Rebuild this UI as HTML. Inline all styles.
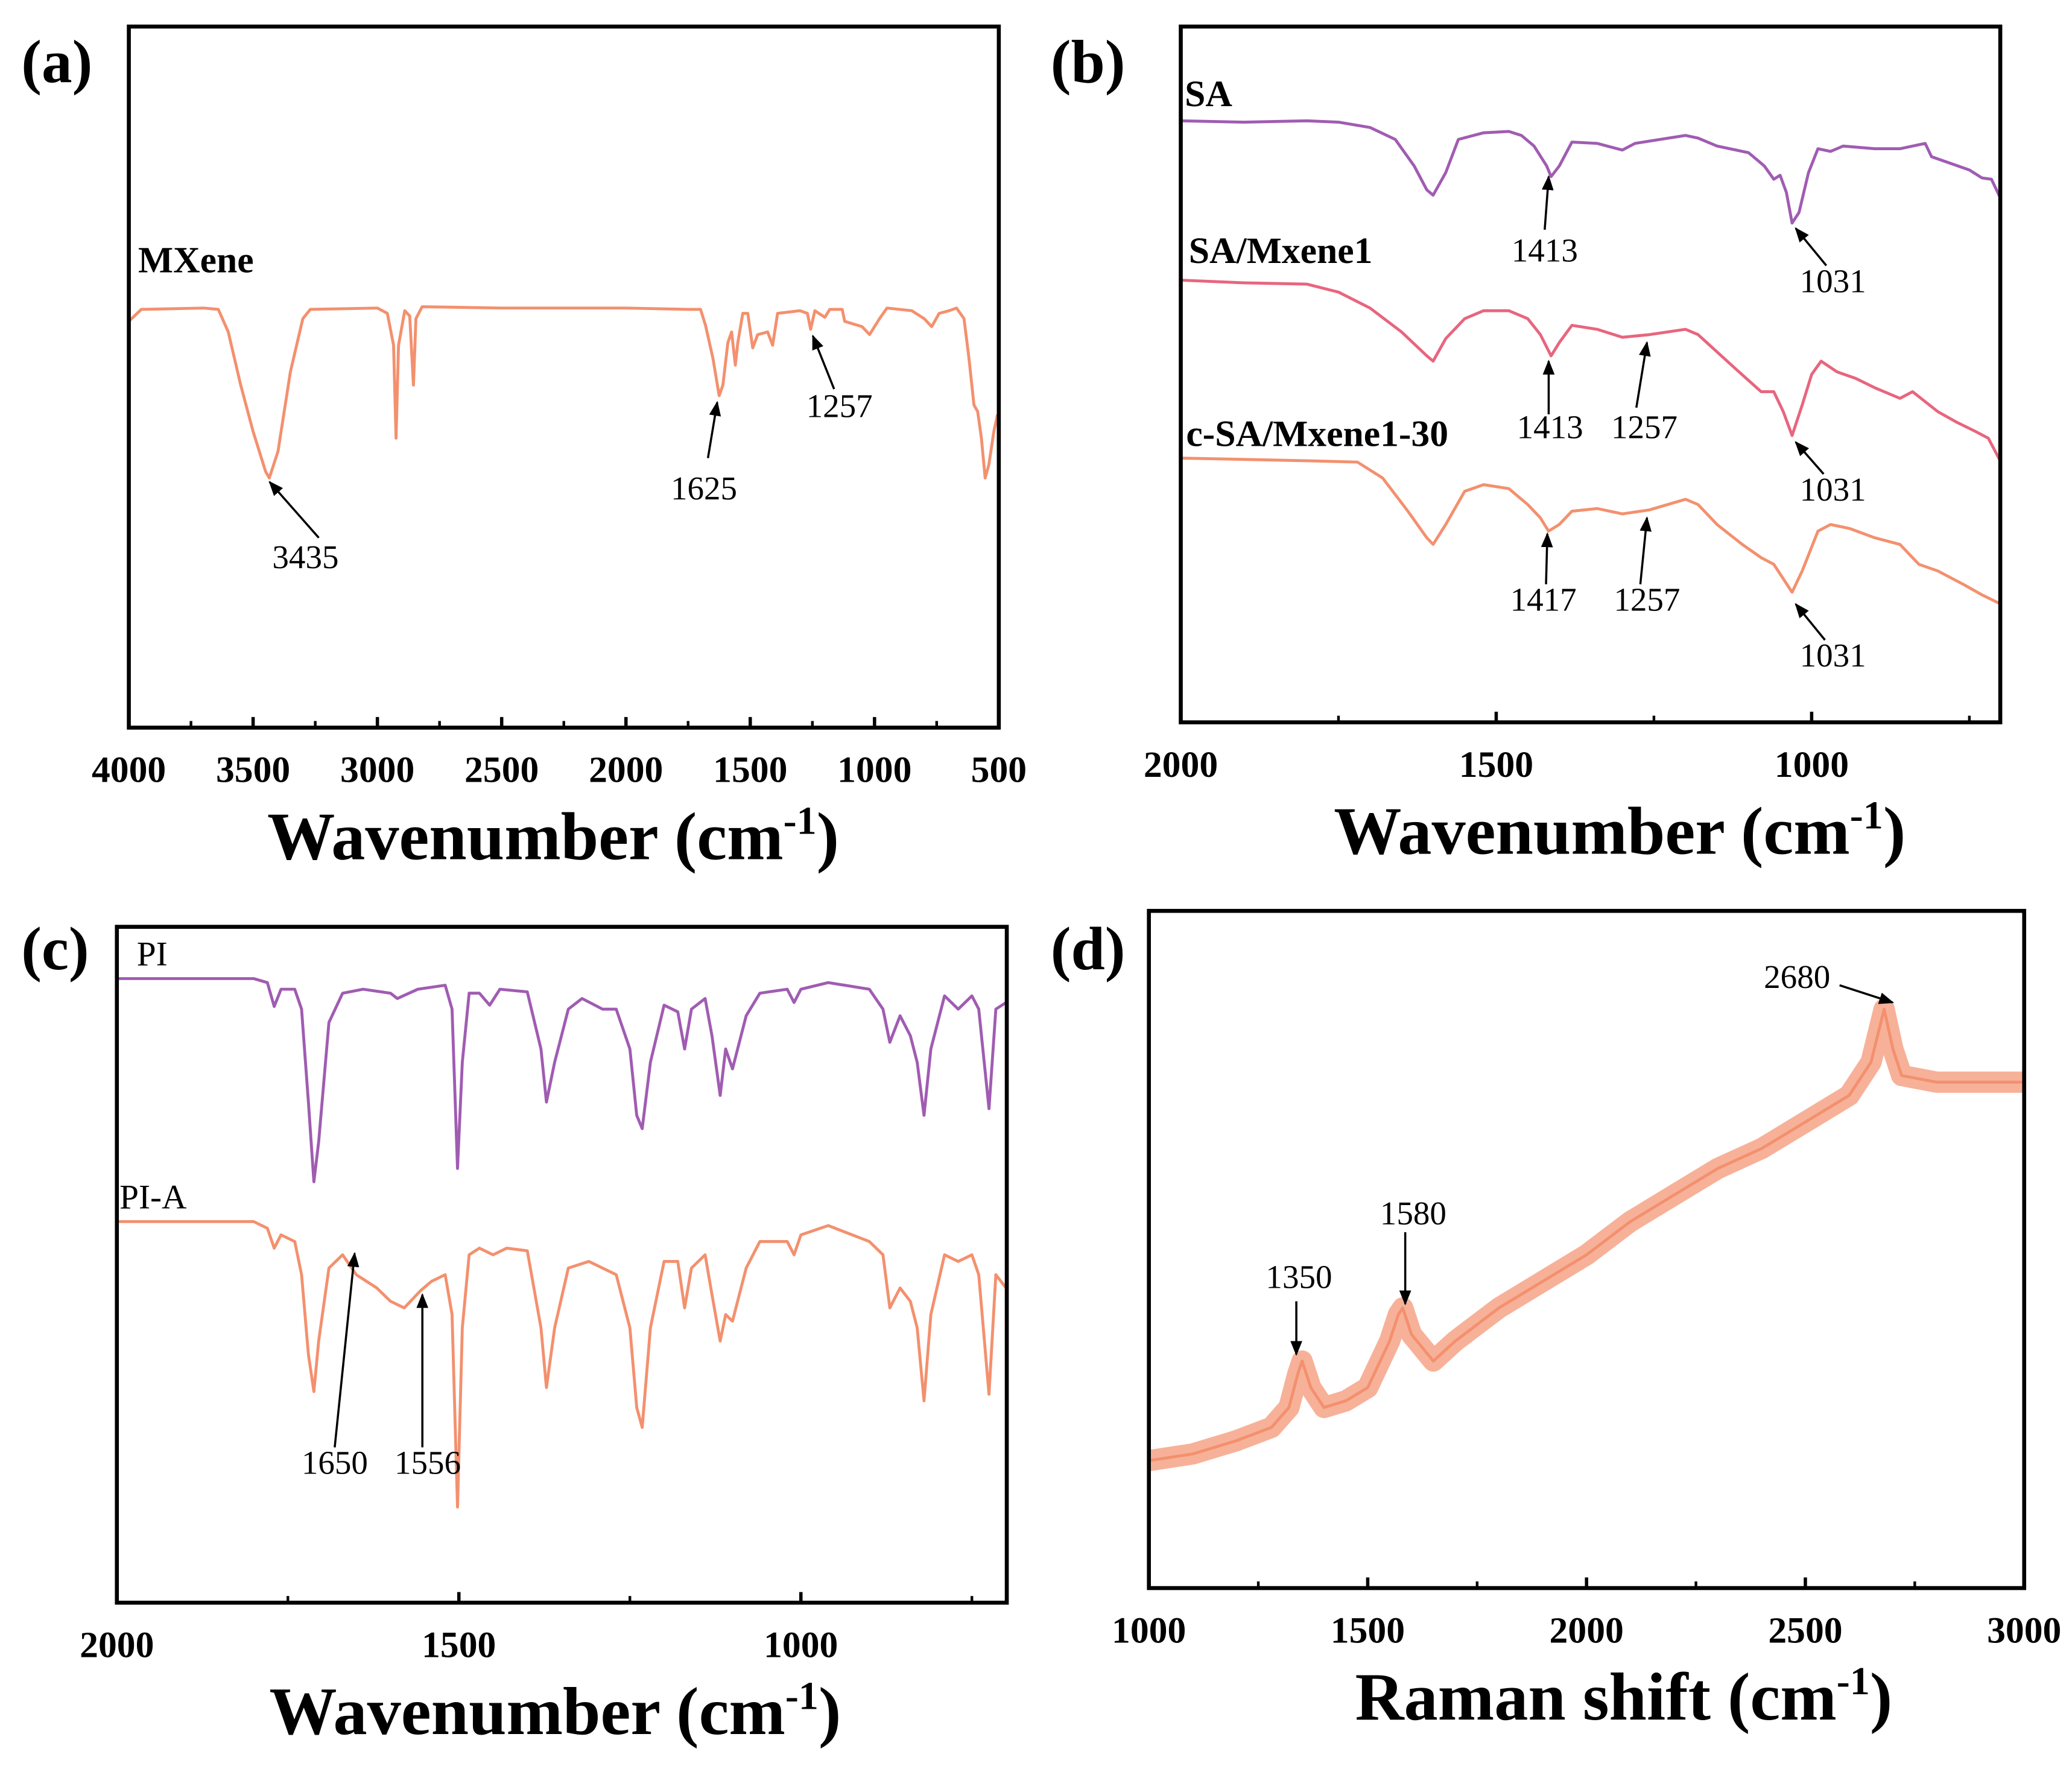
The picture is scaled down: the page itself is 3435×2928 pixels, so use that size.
<!DOCTYPE html>
<html><head><meta charset="utf-8">
<style>
html,body{margin:0;padding:0;background:#fff;}
svg{display:block;}
text{font-family:"Liberation Serif",serif;}
</style></head>
<body>
<svg id="fig" width="3435" height="2928" viewBox="0 0 1560 1330" preserveAspectRatio="none" xmlns="http://www.w3.org/2000/svg">
<defs><marker id="ah" viewBox="0 0 10 10" refX="9" refY="5" markerWidth="7" markerHeight="7" orient="auto"><path d="M0,1 L10,5 L0,9 z" fill="#000"/></marker></defs>
</svg>
<script>
// ---- data: panel (a) MXene FTIR
const aWave=[4000,3950,3700,3640,3600,3550,3500,3450,3435,3400,3350,3300,3270,3000,2960,2935,2925,2915,2890,2870,2855,2845,2820,2500,2000,1750,1700,1680,1650,1625,1610,1590,1575,1560,1550,1530,1510,1490,1470,1430,1410,1390,1300,1270,1257,1240,1200,1180,1130,1120,1050,1020,980,950,850,800,770,740,700,670,640,620,600,585,570,555,540,520,505];
const aMXene=[306,315,316,315,298,258,223,193,188,208,268,308,315,316,312,288,218,288,314,310,258,308,317,316,316,315,315,303,278,250,258,290,298,273,290,312,312,286,296,298,288,312,314,312,300,314,309,315,315,306,302,296,308,316,314,308,302,312,314,316,308,278,243,238,218,188,198,223,236];
const aTicks=[4000,3500,3000,2500,2000,1500,1000,500];
// ---- panel (b)
const bWave1=[2000,1900,1800,1750,1700,1660,1630,1610,1600,1580,1560,1520,1480,1460,1440,1420,1413,1400,1380,1340,1300,1280,1240,1200,1180,1150,1100,1075,1060,1050,1040,1031,1020,1005,990,970,950,900,860,820,810,780,750,730,715,700];
const bSA=[453,452,453,452,448,439,419,401,397,414,439,444,445,442,434,419,411,419,437,436,431,436,439,442,440,434,429,419,409,412,399,376,384,414,432,430,434,432,432,436,426,421,416,410,409,394];
const bWave2=[2000,1900,1800,1750,1700,1650,1610,1600,1580,1550,1520,1480,1450,1430,1413,1400,1380,1340,1300,1257,1200,1180,1150,1120,1080,1060,1045,1031,1015,1000,985,960,930,900,860,840,800,770,740,720,700];
const bSAM1=[333,331,330,324,312,294,276,272,289,304,310,310,304,292,276,286,299,296,290,292,296,292,279,266,249,249,234,216,239,262,272,264,259,252,244,249,234,226,219,214,196];
const bWave3=[2000,1900,1800,1720,1680,1640,1610,1600,1580,1550,1520,1480,1450,1430,1417,1400,1380,1340,1300,1257,1200,1180,1150,1110,1080,1060,1031,1015,990,970,940,900,860,830,800,760,730,700];
const bCSA=[199,198,197,196,184,159,139,134,149,174,179,176,164,154,144,149,159,161,157,160,168,164,149,134,124,119,98,114,144,149,146,139,134,119,114,104,96,89];
const bTicks=[2000,1500,1000];
// ---- panel (c)
const cWave1=[2000,1800,1780,1770,1760,1740,1730,1720,1712,1705,1690,1670,1640,1600,1590,1560,1520,1510,1502,1495,1485,1470,1455,1440,1400,1380,1372,1360,1340,1320,1290,1270,1250,1240,1232,1220,1200,1180,1170,1160,1140,1130,1118,1110,1100,1080,1060,1020,1010,1000,960,900,880,870,855,840,830,820,810,790,770,750,740,725,715,700];
const cPI=[470,470,467,449,462,462,447,377,317,347,437,459,462,459,455,462,465,447,327,407,459,459,450,462,460,417,377,407,447,455,447,447,417,367,357,407,450,445,417,447,455,427,382,417,402,442,459,462,452,462,467,462,447,422,442,427,407,367,417,457,447,457,447,372,447,452];
const cWave2=[2000,1800,1780,1770,1760,1740,1730,1720,1712,1705,1690,1670,1650,1620,1600,1580,1556,1540,1520,1510,1502,1495,1485,1470,1450,1430,1400,1380,1372,1360,1340,1310,1290,1270,1250,1240,1232,1220,1200,1180,1170,1160,1140,1130,1118,1110,1100,1080,1060,1020,1010,1000,960,900,880,870,855,840,830,820,810,790,770,750,740,725,715,700];
const cPIA=[287,287,282,267,277,272,247,187,159,197,252,262,247,237,227,222,235,242,247,217,72,207,262,267,262,267,265,207,162,207,252,257,252,247,207,147,132,207,257,257,222,252,262,232,197,217,212,252,272,272,262,277,284,272,262,222,237,227,207,152,217,262,257,262,247,157,247,237];
const cTicks=[2000,1500,1000];
// ---- panel (d) Raman
const dShift=[1000,1100,1200,1280,1320,1340,1350,1370,1400,1450,1500,1550,1570,1580,1600,1650,1700,1800,1900,2000,2100,2200,2300,2400,2500,2600,2650,2680,2700,2720,2800,2900,3000];
const dInt=[96,101,111,121,136,161,171,151,136,141,151,186,206,211,191,171,186,211,231,251,276,296,316,331,351,371,396,436,406,386,381,381,381];
const dTicks=[1000,1500,2000,2500,3000];

const NS="http://www.w3.org/2000/svg";
const svg=document.getElementById('fig');
function mk(tag,attrs,parent){const e=document.createElementNS(NS,tag);for(const k in attrs)e.setAttribute(k,attrs[k]);(parent||svg).appendChild(e);return e;}
function txt(s,x,y,size,weight,anchor,parent){const t=mk('text',{x:x,y:y,'font-size':size,'font-weight':weight||'normal','text-anchor':anchor||'start',fill:'#000'},parent);t.textContent=s;return t;}

function panel(p){
  const g=mk('g',{});
  
  
  const sx=v=>p.x0+(v-p.d0)/(p.d1-p.d0)*(p.x1-p.x0);
  const sy=v=>p.y1-(v-p.r0)/(p.r1-p.r0)*(p.y1-p.y0);
  p.series.forEach(s=>{
    let d='';s.x.forEach((xv,i)=>{d+=(i?'L':'M')+sx(xv).toFixed(2)+','+sy(s.y[i]).toFixed(2);});
    if(s.band){const b=mk('path',{d:d,fill:'none',stroke:s.color,'stroke-width':s.band,'stroke-linejoin':'round','stroke-opacity':0.7},g);
      
      }
    const l=mk('path',{d:d,fill:'none',stroke:s.color,'stroke-width':2.2,'stroke-linejoin':'round'},g);
    
    
  });
  const f=mk('rect',{x:p.x0,y:p.y0,width:p.x1-p.x0,height:p.y1-p.y0,fill:'none',stroke:'#000','stroke-width':3},g);
  
  
  p.ticks.forEach(t=>{
    const x=sx(t);
    mk('line',{x1:x,y1:p.y1,x2:x,y2:p.y1-8,stroke:'#000','stroke-width':2.5},g);
    const lab=txt(String(t),x,p.y1+41,28,'bold','middle',g);
    
    
    const m=t+p.minor;
    if((p.d0<p.d1&&m<p.d1)||(p.d0>p.d1&&m>p.d1)){const xm=sx(m);mk('line',{x1:xm,y1:p.y1,x2:xm,y2:p.y1-5,stroke:'#000','stroke-width':2},g);}
  });
  const tt=mk('text',{x:(p.x0+p.x1)/2+p.tdx,y:p.y1+99,'font-size':51,'font-weight':'bold','text-anchor':'middle',fill:'#000'},g);
  
  
  tt.innerHTML=p.title+' (cm<tspan dy="-19" font-size="30">-1</tspan><tspan dy="19">)</tspan>';
  const pl=txt(p.letter,p.lx,p.ly,46,'bold','start',g);
  
  
  return g;
}
panel({name:'panel-a',x0:97,x1:752,y0:20,y1:548,d0:4000,d1:500,r0:0,r1:528,ticks:aTicks,minor:-250,title:'Wavenumber',tdx:-8,letter:'(a)',lx:16,ly:62,
  series:[{name:'mxene-spectrum',x:aWave,y:aMXene,color:'#f3906e'}]});
panel({name:'panel-b',x0:889,x1:1506,y0:20,y1:544,d0:2000,d1:701,r0:0,r1:524,ticks:bTicks,minor:-250,title:'Wavenumber',tdx:22,letter:'(b)',lx:791,ly:62,
  series:[{name:'sa-spectrum',x:bWave1,y:bSA,color:'#a05cb2'},{name:'sa-mxene1-spectrum',x:bWave2,y:bSAM1,color:'#e8657e'},{name:'c-sa-mxene1-30-spectrum',x:bWave3,y:bCSA,color:'#f3906e'}]});
panel({name:'panel-c',x0:88,x1:758,y0:698,y1:1207,d0:2000,d1:699,r0:0,r1:509,ticks:cTicks,minor:-250,title:'Wavenumber',tdx:-5,letter:'(c)',lx:16,ly:730,
  series:[{name:'pi-spectrum',x:cWave1,y:cPI,color:'#a05cb2'},{name:'pi-a-spectrum',x:cWave2,y:cPIA,color:'#f3906e'}]});
panel({name:'panel-d',x0:865,x1:1524,y0:686,y1:1196,d0:1000,d1:3000,r0:0,r1:510,ticks:dTicks,minor:250,title:'Raman shift',tdx:28,letter:'(d)',lx:791,ly:730,
  series:[{name:'raman-spectrum',x:dShift,y:dInt,color:'#f3906e',band:16}]});

[['MXene',104,205,28,'bold'],['SA',892,80,28,'bold'],['SA/Mxene1',895,198,28,'bold'],['c-SA/Mxene1-30',893,336,28,'bold'],['PI',103,727,26,'normal'],['PI-A',90,910,26,'normal']].forEach(a=>{
  const t=txt(a[0],a[1],a[2],a[3],a[4]);
  
  
});
const ann=[['3435',240,405,203,363,230,428],['1625',533,345,540,303,530,376],['1257',628,293,612,253,632,314],
['1413',1163,173,1166,133,1163,197],['1031',1375,200,1352,172,1380,220],
['1413',1166,312,1166,272,1167,330],['1257',1232,307,1240,258,1238,330],['1031',1373,357,1352,333,1380,377],
['1417',1164,440,1165,402,1162,460],['1257',1235,440,1240,390,1240,460],['1031',1374,482,1352,455,1380,502],
['1650',252,1090,267,944,252,1110],['1556',318,1090,318,975,322,1110],
['1350',976,980,976,1020,978,970],['1580',1058,928,1058,982,1064,922],['2680',1385,742,1425,755,1353,744]];
ann.forEach(a=>{
  const l=mk('line',{x1:a[1],y1:a[2],x2:a[3],y2:a[4],stroke:'#000','stroke-width':1.6,'marker-end':'url(#ah)'});
  
  
  const t=txt(a[0],a[5],a[6],25,'normal','middle');
  
  
});
</script>
</body></html>
